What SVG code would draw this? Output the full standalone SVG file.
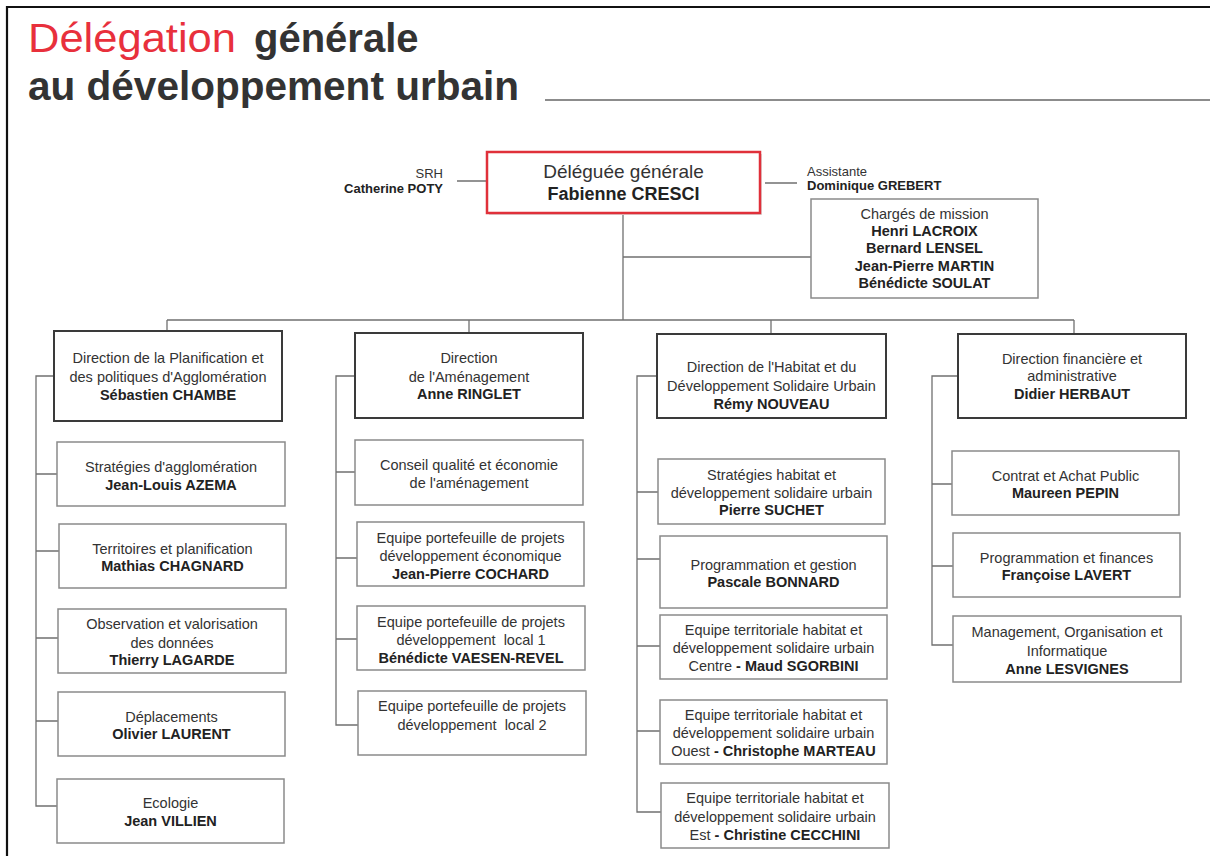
<svg xmlns="http://www.w3.org/2000/svg" width="1210" height="856" viewBox="0 0 1210 856">
<style>
text{font-family:"Liberation Sans",Arial,sans-serif;fill:#333;text-anchor:middle}
.t{font-size:14.5px}
.b{font-weight:bold;fill:#222}
.s{font-size:13px}
.dir{fill:#fff;stroke:#3a3a3a;stroke-width:2}
.sub{fill:#fff;stroke:#8a8a8a;stroke-width:1.5}
.conn{fill:none;stroke:#707070;stroke-width:1.3}
</style>
<rect x="0" y="0" width="1210" height="856" fill="#fff"/>
<path d="M7 856V7H1210" fill="none" stroke="#111" stroke-width="2.2"/>
<g id="title">
<text x="28" y="52" style="font-size:40px;text-anchor:start;fill:#e8303c" textLength="208" lengthAdjust="spacingAndGlyphs">Délégation</text>
<text x="254" y="52" style="font-size:40px;text-anchor:start;font-weight:bold;fill:#333">générale</text>
<text x="28" y="100" style="font-size:40px;text-anchor:start;font-weight:bold;fill:#333" textLength="491" lengthAdjust="spacingAndGlyphs">au développement urbain</text>
<line x1="545" y1="100" x2="1210" y2="100" stroke="#8c8c8c" stroke-width="2"/>
</g>
<g id="connectors" class="conn">
<path d="M457 181H487M765 183H797"/>
<path d="M623 213V320M623 257H811"/>
<path d="M167 320H1074M167 320V331M469 320V333M771 320V334M1074 320V334"/>
<path d="M54 376H36V806H57M36 474H57M36 551H59M36 638H58M36 721H58"/>
<path d="M355 376H336V725H358M336 472H355M336 558H357M336 639H357"/>
<path d="M657 376H637V812H661M637 492H658M637 559H660M637 646H660M637 731H660"/>
<path d="M958 376H932V645H953M932 484H952M932 566H953"/>
</g>
<g id="delegue">
<rect x="489" y="154" width="273" height="61" fill="#ddd"/>
<rect x="487" y="152" width="273" height="61" fill="#fff" stroke="#e0303a" stroke-width="2.5"/>
<text x="623.5" y="178" style="font-size:19px">Déléguée générale</text>
<text x="623.5" y="200" class="b" style="font-size:18px">Fabienne CRESCI</text>
</g>
<g id="srh">
<text x="443" y="178" class="s" style="text-anchor:end">SRH</text>
<text x="443" y="193" class="s b" style="text-anchor:end">Catherine POTY</text>
</g>
<g id="assistante">
<text x="807" y="176" class="s" style="text-anchor:start">Assistante</text>
<text x="807" y="190" class="s b" style="text-anchor:start">Dominique GREBERT</text>
</g>
<g id="charges">
<rect x="811" y="199" width="227" height="99" class="sub"/>
<text x="924.5" y="219" class="t">Chargés de mission</text>
<text x="924.5" y="236" class="t b">Henri LACROIX</text>
<text x="924.5" y="253" class="t b">Bernard LENSEL</text>
<text x="924.5" y="271" class="t b">Jean-Pierre MARTIN</text>
<text x="924.5" y="288" class="t b">Bénédicte SOULAT</text>
</g>
<g id="dir1">
<rect x="54" y="331" width="228" height="90" class="dir"/>
<text x="168" y="363" class="t">Direction de la Planification et</text>
<text x="168" y="382" class="t">des politiques d'Agglomération</text>
<text x="168" y="400" class="t b">Sébastien CHAMBE</text>
</g>
<g id="c1a"><rect x="57" y="442" width="228" height="64" class="sub"/>
<text x="171" y="472" class="t">Stratégies d'agglomération</text>
<text x="171" y="490" class="t b">Jean-Louis AZEMA</text></g>
<g id="c1b"><rect x="59" y="524" width="227" height="64" class="sub"/>
<text x="172.5" y="554" class="t">Territoires et planification</text>
<text x="172.5" y="571" class="t b">Mathias CHAGNARD</text></g>
<g id="c1c"><rect x="58" y="609" width="228" height="64" class="sub"/>
<text x="172" y="629" class="t">Observation et valorisation</text>
<text x="172" y="648" class="t">des données</text>
<text x="172" y="665" class="t b">Thierry LAGARDE</text></g>
<g id="c1d"><rect x="58" y="692" width="227" height="64" class="sub"/>
<text x="171.5" y="722" class="t">Déplacements</text>
<text x="171.5" y="739" class="t b">Olivier LAURENT</text></g>
<g id="c1e"><rect x="57" y="779" width="227" height="64" class="sub"/>
<text x="170.5" y="808" class="t">Ecologie</text>
<text x="170.5" y="826" class="t b">Jean VILLIEN</text></g>
<g id="dir2">
<rect x="355" y="333" width="228" height="85" class="dir"/>
<text x="469" y="363" class="t">Direction</text>
<text x="469" y="382" class="t">de l'Aménagement</text>
<text x="469" y="399" class="t b">Anne RINGLET</text>
</g>
<g id="c2a"><rect x="355" y="440" width="228" height="65" class="sub"/>
<text x="469" y="470" class="t">Conseil qualité et économie</text>
<text x="469" y="488" class="t">de l'aménagement</text></g>
<g id="c2b"><rect x="357" y="522" width="227" height="64" class="sub"/>
<text x="470.5" y="543" class="t">Equipe portefeuille de projets</text>
<text x="470.5" y="561" class="t">développement économique</text>
<text x="470.5" y="579" class="t b">Jean-Pierre COCHARD</text></g>
<g id="c2c"><rect x="357" y="606" width="228" height="64" class="sub"/>
<text x="471" y="627" class="t">Equipe portefeuille de projets</text>
<text x="471" y="645" class="t" xml:space="preserve">développement  local 1</text>
<text x="471" y="663" class="t b">Bénédicte VAESEN-REVEL</text></g>
<g id="c2d"><rect x="358" y="691" width="228" height="64" class="sub"/>
<text x="472" y="711" class="t">Equipe portefeuille de projets</text>
<text x="472" y="730" class="t" xml:space="preserve">développement  local 2</text></g>
<g id="dir3">
<rect x="657" y="334" width="229" height="84" class="dir"/>
<text x="771.5" y="372" class="t">Direction de l'Habitat et du</text>
<text x="771.5" y="391" class="t">Développement Solidaire Urbain</text>
<text x="771.5" y="409" class="t b">Rémy NOUVEAU</text>
</g>
<g id="c3a"><rect x="658" y="459" width="227" height="65" class="sub"/>
<text x="771.5" y="480" class="t">Stratégies habitat et</text>
<text x="771.5" y="498" class="t">développement solidaire urbain</text>
<text x="771.5" y="515" class="t b">Pierre SUCHET</text></g>
<g id="c3b"><rect x="660" y="536" width="227" height="72" class="sub"/>
<text x="773.5" y="570" class="t">Programmation et gestion</text>
<text x="773.5" y="587" class="t b">Pascale BONNARD</text></g>
<g id="c3c"><rect x="660" y="615" width="227" height="64" class="sub"/>
<text x="773.5" y="635" class="t">Equipe territoriale habitat et</text>
<text x="773.5" y="653" class="t">développement solidaire urbain</text>
<text x="773.5" y="671" class="t">Centre <tspan class="b">- Maud SGORBINI</tspan></text></g>
<g id="c3d"><rect x="660" y="700" width="227" height="64" class="sub"/>
<text x="773.5" y="720" class="t">Equipe territoriale habitat et</text>
<text x="773.5" y="738" class="t">développement solidaire urbain</text>
<text x="773.5" y="756" class="t">Ouest <tspan class="b">- Christophe MARTEAU</tspan></text></g>
<g id="c3e"><rect x="661" y="783" width="228" height="65" class="sub"/>
<text x="775" y="803" class="t">Equipe territoriale habitat et</text>
<text x="775" y="822" class="t">développement solidaire urbain</text>
<text x="775" y="840" class="t">Est <tspan class="b">- Christine CECCHINI</tspan></text></g>
<g id="dir4">
<rect x="958" y="334" width="228" height="84" class="dir"/>
<text x="1072" y="364" class="t">Direction financière et</text>
<text x="1072" y="381" class="t">administrative</text>
<text x="1072" y="399" class="t b">Didier HERBAUT</text>
</g>
<g id="c4a"><rect x="952" y="451" width="227" height="64" class="sub"/>
<text x="1065.5" y="481" class="t">Contrat et Achat Public</text>
<text x="1065.5" y="498" class="t b">Maureen PEPIN</text></g>
<g id="c4b"><rect x="953" y="533" width="227" height="64" class="sub"/>
<text x="1066.5" y="563" class="t">Programmation et finances</text>
<text x="1066.5" y="580" class="t b">Françoise LAVERT</text></g>
<g id="c4c"><rect x="953" y="616" width="228" height="66" class="sub"/>
<text x="1067" y="637" class="t">Management, Organisation et</text>
<text x="1067" y="656" class="t">Informatique</text>
<text x="1067" y="674" class="t b">Anne LESVIGNES</text></g>
</svg>
